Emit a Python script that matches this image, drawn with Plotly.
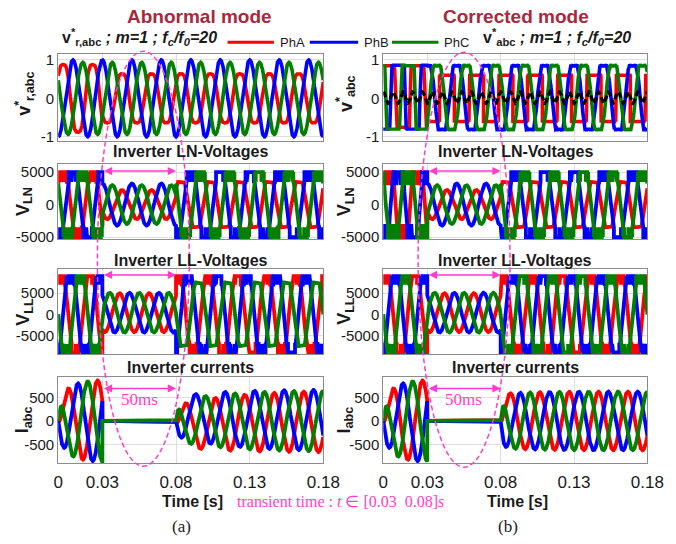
import numpy as np
import plotly.graph_objects as go

# ---------------- values ----------------
F0 = 50.0                      # fundamental frequency [Hz]
FC_F0 = 20                     # carrier ratio fc/f0
T_END = 0.18
T_TRANS = [0.03, 0.08]         # transient window [s]
X_TICKS = [0, 0.03, 0.08, 0.13, 0.18]
X_TICK_TEXT = ["0", "0.03", "0.08", "0.13", "0.18"]

PHASES = ["PhA", "PhB", "PhC"]
PHASE_COLORS = ["#ff0000", "#0000ff", "#008000"]
PHASE_LAG_DEG = [0, 120, 240]

# modulating references v*
REF_ANGLE_DEG = 30
REF_ABN_AMP_PRE = [0.88, 1.00, 0.94]
REF_ABN_AMP_POST = [0.64, 1.00, 0.94]
REF_ABN_H3 = [0.10, 0.0, 0.0]
REF_COR_PRE_HIGH = [0.85, 0.86, 0.85]
REF_COR_PRE_LOW = [-0.75, -0.80, -0.80]
REF_COR_POST_AMP = [0.60, 0.97, 0.97]
REF_COR_POST_SQUARE = [True, False, False]
ZSEQ_AMP = 0.15
ZSEQ_OFFSET = 0.02
REF_RIPPLE = 0.03

# inverter LN voltages (per phase): envelope amplitude, chatter threshold, peak level
LN_ABN_PRE = dict(amp=[6500, 7000, 6500], thr=[3500, 3500, 3500], peak=[5000, 5000, 5000])
LN_ABN_POST = dict(amp=[5000, 7000, 6500], thr=[3500, 3500, 3500], peak=[3500, 5000, 5000])
LN_COR_PRE = dict(amp=[10000, 10000, 10000], thr=[3000, 3000, 3000], peak=[5000, 5000, 5000])
LN_COR_POST = dict(amp=[5000, 7000, 6500], thr=[3500, 3500, 3500], peak=[3500, 5000, 5000])
LN_TRANS_AMP = [2250, 3250, 3000]

# inverter LL voltages
LL_ABN_PRE = dict(amp=[12000, 12000, 12000], thr=[7000, 7000, 7000], peak=[9000, 9000, 9000])
LL_ABN_POST = dict(amp=[11500, 11500, 10000], thr=[7000, 7000, 7500], peak=[9000, 9000, 7500])
LL_COR_PRE = dict(amp=[12000, 12000, 12000], thr=[7000, 7000, 7000], peak=[9000, 9000, 9000])
LL_COR_POST = dict(amp=[12000, 12000, 12000], thr=[7000, 7000, 7000], peak=[9000, 9000, 9000])
LL_TRANS_AMP = [4600, 4700, 4700]
LL_TRANS_OFFSET = 380
LL_LEAD_DEG = 30

# inverter currents
CUR_ANGLE_DEG = -30
CUR_PRE_AMP = [390, 870]            # envelope start / end
CUR_PRE_TAU = 0.007
CUR_POST_ABN_AMP = [430, 660]
CUR_POST_ABN_TAU = 0.035
CUR_POST_ABN_DC = [-110, 90, 0]
CUR_POST_COR_AMP = [570, 625]
CUR_POST_COR_TAU = 0.02
CUR_POST_COR_DC = [0, 0, 0]

Y_RANGES = [[-1.1, 1.15], [-5300, 6200], [-9400, 10800], [-900, 940]]
Y_TICKS = [[-1, 0, 1], [-5000, 0, 5000], [-5000, 0, 5000], [-500, 0, 500]]
Y_TICK_TEXT = [["-1", "0", "1"], ["-5000", "0", "5000"], ["-5000", "0", "5000"], ["-500", "0", "500"]]
ROW_TITLES = [None, "Inverter LN-Voltages", "Inverter LL-Voltages", "Inverter currents"]
Y_LABELS_LEFT = ["<b>v<sup>*</sup><sub>r,abc</sub></b>", "<b>V<sub>LN</sub></b>", "<b>V<sub>LL</sub></b>", "<b>I<sub>abc</sub></b>"]
Y_LABELS_RIGHT = ["<b>v<sup>*</sup><sub>abc</sub></b>", "<b>V<sub>LN</sub></b>", "<b>V<sub>LL</sub></b>", "<b>I<sub>abc</sub></b>"]
ARROW_Y = [None, 5150, 9300, 690]
ARROW_TEXT_Y = 455

# ---------------- waveform model ----------------
fs = 40 * F0 * FC_F0
t = np.linspace(0, T_END, int(round(T_END * fs)) + 1)
w = 2 * np.pi * F0
pre = t < T_TRANS[0]
trans = (t >= T_TRANS[0]) & (t < T_TRANS[1])
post = t >= T_TRANS[1]
carrier = 4 * np.abs((t * F0 * FC_F0) % 1 - 0.5) - 1
carrier01 = (carrier + 1) / 2


def ang(k, base_deg, tt=t):
    return w * tt + np.deg2rad(base_deg - PHASE_LAG_DEG[k])


def ref_abnormal(k):
    th = ang(k, REF_ANGLE_DEG)
    h = REF_ABN_H3[k]
    f = np.sin(th) + h * np.sin(3 * th)
    f = f / np.max(np.abs(f))
    amp = np.where(pre, REF_ABN_AMP_PRE[k], REF_ABN_AMP_POST[k])
    return amp * f


zseq = ZSEQ_AMP * np.sin(3 * ang(0, REF_ANGLE_DEG)) + ZSEQ_OFFSET


def ref_corrected(k):
    th = ang(k, REF_ANGLE_DEG)
    pre_v = np.clip(4 * np.sin(th), REF_COR_PRE_LOW[k], REF_COR_PRE_HIGH[k])
    if REF_COR_POST_SQUARE[k]:
        post_v = REF_COR_POST_AMP[k] * np.sign(np.sin(th))
    else:
        post_v = REF_COR_POST_AMP[k] * np.sin(th) + zseq
    return np.where(pre, pre_v, post_v) + REF_RIPPLE * carrier


def chatter(s, prm, k):
    """Envelope clipped at the peak level; switching between threshold and peak near the crests."""
    a = np.clip(prm["amp"][k] * s, -prm["peak"][k], prm["peak"][k])
    thr, pk = prm["thr"][k], prm["peak"][k]
    mag = np.abs(a)
    duty = np.clip((mag - thr) / max(pk - thr, 1.0), 0, 1)
    top = np.where(duty > carrier01, pk, thr)
    return np.where(mag <= thr, a, np.sign(a) * top)


def switched(k, angle_deg, p_pre, p_post, tr_amp, tr_off):
    s = np.sin(ang(k, angle_deg))
    v_pre = chatter(s, p_pre, k)
    v_post = chatter(s, p_post, k)
    v_tr = tr_amp[k] * s + tr_off
    return np.where(pre, v_pre, np.where(trans, v_tr, v_post))


def currents(post_amp, post_tau, post_dc):
    out = []
    tf = 0.0015
    for k in range(3):
        th = ang(k, CUR_ANGLE_DEG)
        env = CUR_PRE_AMP[1] - (CUR_PRE_AMP[1] - CUR_PRE_AMP[0]) * np.exp(-t / CUR_PRE_TAU)
        i_pre = env * np.sin(th) - CUR_PRE_AMP[0] * np.sin(th[0]) * np.exp(-t / tf)
        tp = np.clip(t - T_TRANS[1], 0, None)
        env2 = post_amp[1] - (post_amp[1] - post_amp[0]) * np.exp(-tp / post_tau)
        th0 = ang(k, CUR_ANGLE_DEG, T_TRANS[1])
        i_post = (env2 * np.sin(th) + post_dc[k] * np.exp(-tp / 0.05)
                  - (post_amp[0] * np.sin(th0) + post_dc[k]) * np.exp(-tp / tf))
        out.append(np.where(pre, i_pre, np.where(post, i_post, 0.0)))
    return out


refs_abn = [ref_abnormal(k) for k in range(3)]
refs_cor = [ref_corrected(k) for k in range(3)]
ln_abn = [switched(k, REF_ANGLE_DEG, LN_ABN_PRE, LN_ABN_POST, LN_TRANS_AMP, 0) for k in range(3)]
ln_cor = [switched(k, REF_ANGLE_DEG, LN_COR_PRE, LN_COR_POST, LN_TRANS_AMP, 0) for k in range(3)]
ll_abn = [switched(k, REF_ANGLE_DEG + LL_LEAD_DEG, LL_ABN_PRE, LL_ABN_POST, LL_TRANS_AMP, LL_TRANS_OFFSET)
          for k in range(3)]
ll_cor = [switched(k, REF_ANGLE_DEG + LL_LEAD_DEG, LL_COR_PRE, LL_COR_POST, LL_TRANS_AMP, LL_TRANS_OFFSET)
          for k in range(3)]
i_abn = currents(CUR_POST_ABN_AMP, CUR_POST_ABN_TAU, CUR_POST_ABN_DC)
i_cor = currents(CUR_POST_COR_AMP, CUR_POST_COR_TAU, CUR_POST_COR_DC)

PANELS = [
    [refs_abn, refs_cor],
    [ln_abn, ln_cor],
    [ll_abn, ll_cor],
    [i_abn, i_cor],
]
LINE_W = [3.6, 3.8, 3.8, 3.8]

# ---------------- layout geometry (pixels) ----------------
W, H = 676, 544
COL_X = [[55, 329], [391, 664]]
ROW_Y = [[52, 140], [164, 240], [270, 357], [380, 468]]
PINK = "#ff3ec8"
SANS = "Liberation Sans, Arial, sans-serif"
SERIF = "Liberation Serif, Times New Roman, serif"
TXT = "#1a1a1a"


def px(x):
    return x / W


def py(y):
    return 1 - y / H


def note(text, x, y, size, color=TXT, family=SANS, xanchor="center", angle=0):
    return dict(text=text, x=px(x), y=py(y), xref="paper", yref="paper", showarrow=False,
                xanchor=xanchor, yanchor="middle", textangle=angle,
                font=dict(size=size, color=color, family=family))


fig = go.Figure()
layout = dict(width=W, height=H, margin=dict(l=0, r=0, t=0, b=0), autosize=False,
              paper_bgcolor="white", plot_bgcolor="white", showlegend=False,
              font=dict(family=SANS, color=TXT))
annotations = []
shapes = []

for r in range(4):
    for c in range(2):
        p = r * 2 + c + 1
        xn = "x" if p == 1 else f"x{p}"
        yn = "y" if p == 1 else f"y{p}"
        layout["xaxis" if p == 1 else f"xaxis{p}"] = dict(
            domain=[px(COL_X[c][0]), px(COL_X[c][1])], range=[0, T_END], anchor=yn,
            tickvals=X_TICKS, ticktext=X_TICK_TEXT, showticklabels=(r == 3),
            tickfont=dict(size=17, color=TXT), ticklabelstandoff=3,
            showgrid=True, gridcolor="#dedede", gridwidth=1, zeroline=False,
            showline=True, mirror=True, linecolor="#8c8c8c", linewidth=1, ticks="")
        layout["yaxis" if p == 1 else f"yaxis{p}"] = dict(
            domain=[py(ROW_Y[r][1]), py(ROW_Y[r][0])], range=Y_RANGES[r], anchor=xn,
            tickvals=Y_TICKS[r], ticktext=Y_TICK_TEXT[r], tickfont=dict(size=15, color=TXT),
            showgrid=True, gridcolor="#dedede", gridwidth=1, zeroline=False,
            showline=True, mirror=True, linecolor="#8c8c8c", linewidth=1, ticks="")
        series = PANELS[r][c]
        for k in range(3):
            fig.add_trace(go.Scatter(x=t.astype(np.float32), y=np.asarray(series[k], dtype=np.float32),
                                     mode="lines", name=PHASES[k], xaxis=xn, yaxis=yn,
                                     line=dict(color=PHASE_COLORS[k], width=LINE_W[r]),
                                     hoverinfo="skip"))
        if r == 0 and c == 1:
            fig.add_trace(go.Scatter(x=t.astype(np.float32), y=zseq.astype(np.float32), mode="lines",
                                     xaxis=xn, yaxis=yn, hoverinfo="skip",
                                     line=dict(color="black", width=3.2, dash="6px,3px")))
        cx = (COL_X[c][0] + COL_X[c][1]) / 2
        if ROW_TITLES[r]:
            ty = {1: 151, 2: 262, 3: 371}[r]
            annotations.append(note(f"<b>{ROW_TITLES[r]}</b>", cx, ty, 16))
        lx = 20 if c == 0 else 352
        ly = (ROW_Y[r][0] + ROW_Y[r][1]) / 2 - (4 if r == 0 else 0)
        annotations.append(note((Y_LABELS_LEFT if c == 0 else Y_LABELS_RIGHT)[r], lx, ly, 18, angle=-90))
        if ARROW_Y[r] is not None:
            annotations.append(dict(x=T_TRANS[1], y=ARROW_Y[r], ax=T_TRANS[0], ay=ARROW_Y[r],
                                    xref=xn, yref=yn, axref=xn, ayref=yn, text="",
                                    showarrow=True, arrowside="end+start", arrowhead=2,
                                    arrowsize=1.1, arrowwidth=1.5, arrowcolor=PINK))
        if r == 3:
            annotations.append(dict(text="50ms", x=(T_TRANS[0] + T_TRANS[1]) / 2, y=ARROW_TEXT_Y,
                                    xref=xn, yref=yn, showarrow=False, xanchor="center",
                                    yanchor="middle", font=dict(family=SERIF, size=17, color=PINK)))
            annotations.append(note("<b>Time [s]</b>", 194 if c == 0 else 530, 507, 16))
            annotations.append(note("(a)" if c == 0 else "(b)", 182 if c == 0 else 520, 532, 17,
                                    family=SERIF))

annotations += [
    note("<b>Abnormal mode</b>", 201, 14, 19, color="#a52a3c"),
    note("<b>Corrected mode</b>", 528, 14, 19, color="#a52a3c"),
    note("<b>v<sup>*</sup><sub>r,abc</sub> <i>; m=1 ; f<sub>c</sub>/f<sub>0</sub>=20</i></b>",
         57, 35, 16, xanchor="left"),
    note("<b>v<sup>*</sup><sub>abc</sub> <i>; m=1 ; f<sub>c</sub>/f<sub>0</sub>=20</i></b>",
         492, 35, 16, xanchor="left"),
    note("transient time : <i>t</i> \u2208 [0.03\u00a0\u00a00.08]<i>s</i>", 238, 507, 16,
         color=PINK, family=SERIF, xanchor="left"),
]

# legend (manual, wide line samples as in the picture)
LEG_LINE_X = [[230, 278], [315, 365], [400, 448]]
for k in range(3):
    shapes.append(dict(type="line", xref="paper", yref="paper",
                       x0=px(LEG_LINE_X[k][0]), x1=px(LEG_LINE_X[k][1]), y0=py(40), y1=py(40),
                       line=dict(color=PHASE_COLORS[k], width=3)))
    annotations.append(note(PHASES[k], LEG_LINE_X[k][1] + 4, 40, 13, xanchor="left"))

# dashed ellipses marking the transient interval
for (x0, x1, y0, y1) in [(95.5, 190.5, 49, 471), (427, 522, 50, 472)]:
    shapes.append(dict(type="circle", xref="paper", yref="paper", x0=px(x0), x1=px(x1),
                       y0=py(y1), y1=py(y0), line=dict(color=PINK, width=1.5, dash="5px,3px"),
                       layer="above"))

layout["annotations"] = annotations
layout["shapes"] = shapes
fig.update_layout(**layout)
fig.write_html("out.html")
